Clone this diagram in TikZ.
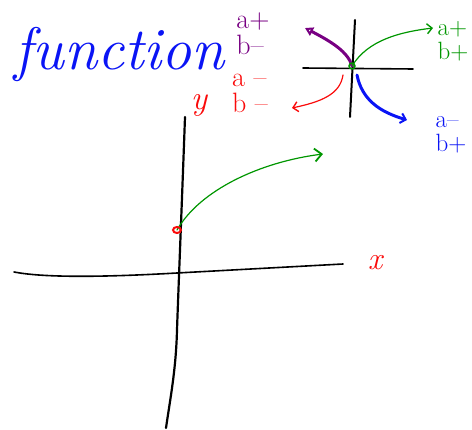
\documentclass[tikz,border=0pt]{standalone}
\usetikzlibrary{arrows.meta}
\definecolor{inkblue}{RGB}{10,20,245}
\definecolor{inkred}{RGB}{250,10,10}
\definecolor{inkgreen}{RGB}{0,150,0}
\definecolor{inkpurple}{RGB}{120,0,130}

\begin{document}
\begin{tikzpicture}[x=1pt,y=-1pt,
  ink/.style={line cap=round,line join=round},
  axis/.style={ink,black,line width=2.2pt},
  barb/.style={-{Straight Barb[length=7pt,width=13pt,line width=1.8pt]}},
  tag/.style={inner sep=0pt,align=left,font=\fontsize{28}{26}\selectfont},
  small tag/.style={tag,font=\fontsize{25}{24}\selectfont}]
\useasboundingbox (0,0) rectangle (472,430);
% big axes
\draw[axis] (185,117) .. controls (182,200) and (178,300) .. (177,330) .. controls (176,370) and (170,400) .. (166,428);
\draw[axis,line width=1.6pt] (14,272) .. controls (40,277) and (90,278) .. (177,273) -- (343,264);
\node[inner sep=0pt,text=inkred,font=\fontsize{32}{32}\selectfont\itshape] (xlab) at (375,263) {x};
\node[inner sep=0pt,text=inkred,font=\fontsize{34}{34}\selectfont\itshape] (ylab) at (199,105) {y};
\coordinate (P) at (177,230);
\coordinate (Pend) at (323,154);
\draw[ink,inkgreen,line width=1.2pt,barb] (P) .. controls (200,190) and (260,162) .. (Pend);
\draw[inkred,line width=2pt] (P) ellipse (4 and 3);
% small axes
\draw[axis,line width=1.6pt] (303,68) -- (413,69);
\draw[axis,line width=2pt] (355,20) -- (350,117);
\coordinate (o) at (352,66);
\coordinate (pp) at (305,28);
\coordinate (gp) at (433,28);
\coordinate (rp) at (292,108);
\coordinate (bp) at (407,120);
\draw[ink,inkpurple,line width=3pt,-{Triangle[open,length=8pt,width=9pt,line width=2pt]}] (o) .. controls (348,52) and (332,42) .. (pp);
\draw[ink,inkgreen,line width=1.2pt,-{Straight Barb[length=5pt,width=10pt,line width=1.4pt]}] (o) .. controls (368,40) and (400,32) .. (gp);
\draw[ink,inkred,line width=1.2pt,-{Straight Barb[length=5pt,width=10pt,line width=1.4pt]}] (343,75) .. controls (340,95) and (320,102) .. (rp);
\draw[ink,inkblue,line width=3pt,-{Straight Barb[length=5pt,width=10pt,line width=2pt]}] (357,75) .. controls (362,100) and (380,112) .. (bp);
\draw[inkgreen,line width=1.4pt] (o) circle (3);
% labels
\node[inner sep=0pt,text=inkblue,font=\fontsize{60}{60}\selectfont\itshape] (fn) at (120,55) {function};
\node[tag,text=inkpurple] (pq) at (253,34) {a+\\b--};
\node[small tag,text=inkgreen] (gq) at (453,41) {a+\\b+};
\node[tag,text=inkred] (rq) at (250,93) {a --\\b --};
\node[small tag,text=inkblue] (bq) at (451,135) {a--\\b+};
\end{tikzpicture}
\end{document}
